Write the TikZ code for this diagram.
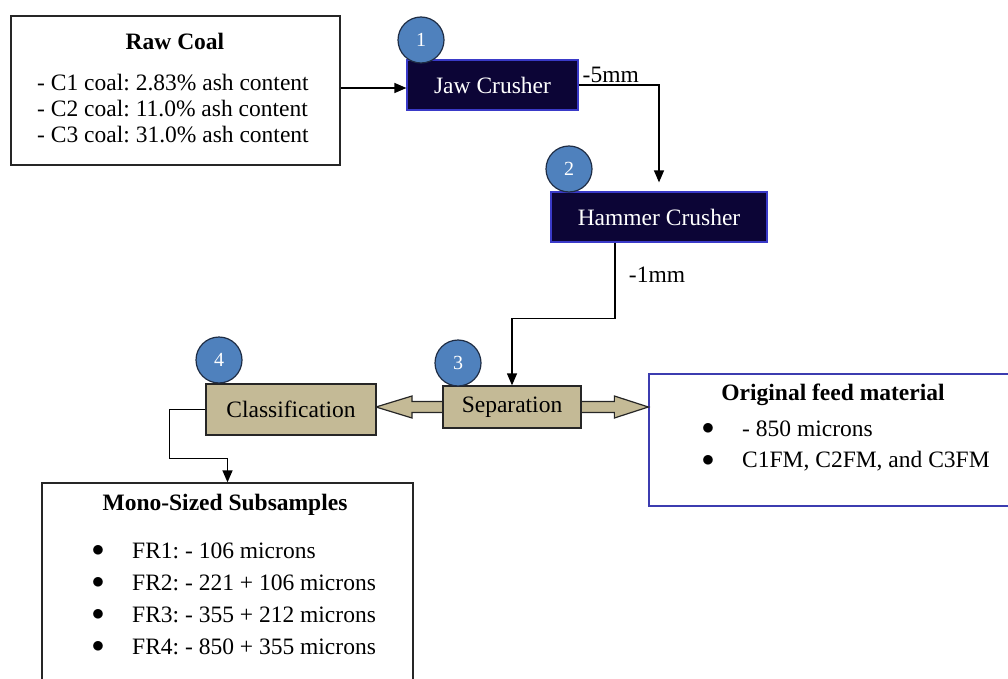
\documentclass[tikz,border=0pt]{standalone}
\usepackage{fontspec}
\setmainfont{Liberation Serif}
\usetikzlibrary{arrows.meta,calc}
\definecolor{navybox}{HTML}{0C0536}
\definecolor{navyline}{HTML}{3A3AC8}
\definecolor{tanbox}{HTML}{C4BA96}
\definecolor{badgeblue}{HTML}{4F81BD}
\definecolor{badgeline}{HTML}{1F2D45}
\definecolor{feedline}{HTML}{3C3CB0}
\newcommand{\flowfont}{\fontsize{23.5}{26}\selectfont}
\frenchspacing
\tikzset{
  infobox/.style={draw=black!85,line width=1.3pt,fill=white},
  crusher/.style={draw=navyline,fill=navybox,text=white,line width=1.2pt,font=\flowfont,minimum height=50pt},
  tanstep/.style={draw=black!85,fill=tanbox,line width=1.3pt,font=\flowfont},
  badge/.style={circle,draw=badgeline,fill=badgeblue,text=white,line width=1.2pt,minimum size=46pt,inner sep=0pt,font=\fontsize{20}{21}\selectfont},
  flow/.style={line width=1.3pt,-{Triangle[length=12pt,width=10pt]}},
  txt/.style={inner sep=0pt,font=\flowfont},
}
\begin{document}
\begin{tikzpicture}[x=1pt,y=-1pt]
    \clip (0,0) rectangle (1008,679);
    % raw coal
    \node[infobox,minimum width=329pt,minimum height=149pt] (raw) at (175.5,90.5) {};
    \node[txt,font=\flowfont\bfseries] (rawhead) at (175,41) {Raw Coal};
    \foreach \n/\y/\t in {1/83/2.83, 2/109/11.0, 3/135/31.0}
    \node[txt,anchor=west] (rawline\n) at (37,\y) {- C\n{} coal: \t\% ash content};
    % crushers
    \node[crusher,minimum width=171pt] (jaw) at (492.5,85) {Jaw Crusher};
    \node[crusher,minimum width=216pt] (hammer) at (659,217) {Hammer Crusher};
    \node[badge] (badge1) at (421,40) {1};
    \node[badge] (badge2) at (569,169) {2};
    % feed and subsamples
    \node[draw=feedline,line width=1.3pt,fill=white,minimum width=380pt,minimum height=132pt] (orig) at (839,440) {};
    \node[txt,font=\flowfont\bfseries] (orighead) at (833,395) {Original feed material};
    \foreach \n/\y/\t in {1/429/{- 850 microns}, 2/461/{C1FM, C2FM, and C3FM}}
    {
    \node[txt] (origdot\n) at (708,\y) {$\bullet$};
    \node[txt,anchor=west] (origline\n) at (742,\y) {\t};
    }
    \node[infobox,minimum width=371pt,minimum height=217pt] (mono) at (227.5,591.5) {};
    \node[txt,font=\flowfont\bfseries] (monohead) at (225,505) {Mono-Sized Subsamples};
    \foreach \n/\y/\t in {1/551/{- 106}, 2/583/{- 221 + 106}, 3/615/{- 355 + 212}, 4/647/{- 850 + 355}}
    {
    \node[txt] (monodot\n) at (98,\y) {$\bullet$};
    \node[txt,anchor=west] (monoline\n) at (132,\y) {FR\n: \t{} microns};
    }
    % separation and classification
    \coordinate (sepmid) at (512,407);
    \path (sepmid -| 376,0) coordinate (lefttip) (sepmid -| orig.west) coordinate (righttip);
    \draw[fill=tanbox,draw=black!85,line width=1.2pt] (lefttip) -- ++(36,-11) -- ++(0,5.5)
      -- ([shift={(-34,-5.5)}]righttip) -- ++(0,-5.5) -- (righttip) -- ++(-34,11) -- ++(0,-5.5)
      -- ([shift={(36,5.5)}]lefttip) -- ++(0,5.5) -- cycle;
    \node[tanstep,minimum width=138pt,minimum height=42pt] (sep) at (sepmid) {Separation};
    \node[tanstep,minimum width=170pt,minimum height=51pt] (cls) at (291,409.5) {Classification};
    \node[badge] (badge3) at (458,363) {3};
    \node[badge] (badge4) at (219,360) {4};
    % flow lines
    \draw[flow] (raw.east |- 0,88) -- (jaw.west |- 0,88);
    \draw[flow,shorten >=9pt] (jaw.east) -| (hammer.north) node[pos=0.2,above=2pt,txt,text=black] (cut5) {-5mm};
    \draw[flow] ([xshift=-44pt]hammer.south) -- ++(0,76) coordinate (bend1) -| (sep.north);
    \node[txt] (cut1) at (657,275) {-1mm};
    \draw[flow] (cls.west) -- ++(-36,0) -- ++(0,49) -| (mono.north);
\end{tikzpicture}
\end{document}
